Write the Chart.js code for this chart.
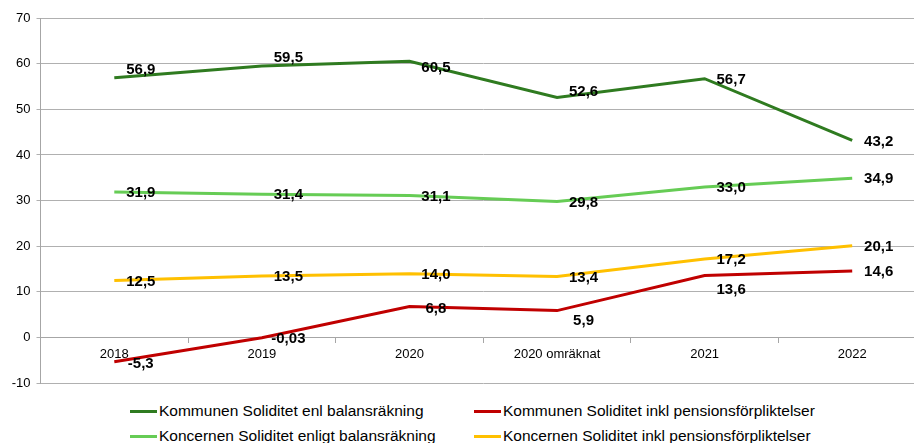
<!DOCTYPE html>
<html>
<head>
<meta charset="utf-8">
<script src="https://cdn.jsdelivr.net/npm/chart.js@4/dist/chart.umd.min.js"></script>
<style>
  html, body { margin: 0; padding: 0; background: #fff; }
  body { width: 914px; height: 443px; overflow: hidden; position: relative; font-family: "Liberation Sans", Arial, sans-serif; }
  #wrap { position: absolute; left: 0; top: 0; width: 926px; height: 397px; }
  #legend { position: absolute; left: 130px; top: 399px; display: grid; grid-template-columns: 344px 400px; row-gap: 1px; }
  .item { display: flex; align-items: center; height: 24px; font-size: 15.5px; color: #000; white-space: nowrap; }
  .swatch { width: 27px; height: 3px; margin-right: 2px; }
</style>
</head>
<body>
<div id="wrap"><canvas id="ctx" width="926" height="397"></canvas></div>
<div id="legend"></div>
<script>
"use strict";

const categories = ["2018", "2019", "2020", "2020 omräknat", "2021", "2022"];
const kommunenBalans = [56.9, 59.5, 60.5, 52.6, 56.7, 43.2];
const kommunenPension = [-5.3, -0.03, 6.8, 5.9, 13.6, 14.6];
const koncernenBalans = [31.9, 31.4, 31.1, 29.8, 33.0, 34.9];
const koncernenPension = [12.5, 13.5, 14.0, 13.4, 17.2, 20.1];
const yTicks = [-10, 0, 10, 20, 30, 40, 50, 60, 70];

// vertical nudge of the value labels (px), default 1
const labelShift = {
  0: [-8, -8, 6, -6, 1, 2],
  1: [2, 1, 2, 10, 14, 1]
};

function fmt(v) {
  let s = Math.abs(Math.round(v * 10) - v * 10) < 1e-9 ? v.toFixed(1) : String(v);
  return s.replace(".", ",");
}

const valueLabels = {
  id: "valueLabels",
  afterDatasetsDraw(chart) {
    const c = chart.ctx;
    c.save();
    c.font = "bold 15px 'Liberation Sans', Arial, sans-serif";
    c.fillStyle = "#000";
    c.textAlign = "center";
    c.textBaseline = "middle";
    chart.data.datasets.forEach((ds, di) => {
      chart.getDatasetMeta(di).data.forEach((pt, i) => {
        let dy = labelShift[di] ? labelShift[di][i] : 1;
        c.fillText(fmt(ds.data[i]), pt.x + 26.5, pt.y + dy);
      });
    });
    c.restore();
  }
};

const datasets = [
  { label: "Kommunen Soliditet enl balansräkning", data: kommunenBalans, borderColor: "#2f7b20" },
  { label: "Kommunen Soliditet inkl pensionsförpliktelser", data: kommunenPension, borderColor: "#c00000" },
  { label: "Koncernen Soliditet enligt balansräkning", data: koncernenBalans, borderColor: "#66cc55" },
  { label: "Koncernen Soliditet inkl pensionsförpliktelser", data: koncernenPension, borderColor: "#ffc000" }
].map(d => Object.assign(d, { borderWidth: 3, pointRadius: 0, tension: 0, fill: false }));

const tickFont = { family: "'Liberation Sans', Arial, sans-serif", size: 13 };

const chart = new Chart(document.getElementById("ctx"), {
  type: "line",
  data: { labels: categories, datasets: datasets },
  options: {
    responsive: false,
    animation: false,
    layout: { padding: { top: 18, bottom: 4, left: 0, right: 0 } },
    plugins: { legend: { display: false }, tooltip: { enabled: false } },
    scales: {
      x: {
        position: { y: 0 },
        offset: true,
        grid: { drawOnChartArea: false, drawTicks: true, tickLength: 5, offset: true, color: "#a6a6a6" },
        border: { color: "#a6a6a6", width: 1 },
        ticks: { font: tickFont, color: "#000", padding: 4, maxRotation: 0 }
      },
      y: {
        min: -10,
        max: 70,
        afterBuildTicks: (s) => { s.ticks = yTicks.map(v => ({ value: v })); },
        afterFit: (s) => { s.width = 40.5; },
        grid: { color: "#b0b0b0", tickLength: 4 },
        border: { color: "#a6a6a6", width: 1 },
        ticks: { font: tickFont, color: "#000", padding: 6 }
      }
    }
  },
  plugins: [valueLabels]
});

const legend = document.getElementById("legend");
chart.data.datasets.forEach(ds => {
  const item = document.createElement("div");
  item.className = "item";
  item.innerHTML = `<span class="swatch" style="background:${ds.borderColor}"></span><span>${ds.label}</span>`;
  legend.appendChild(item);
});
</script>
</body>
</html>
